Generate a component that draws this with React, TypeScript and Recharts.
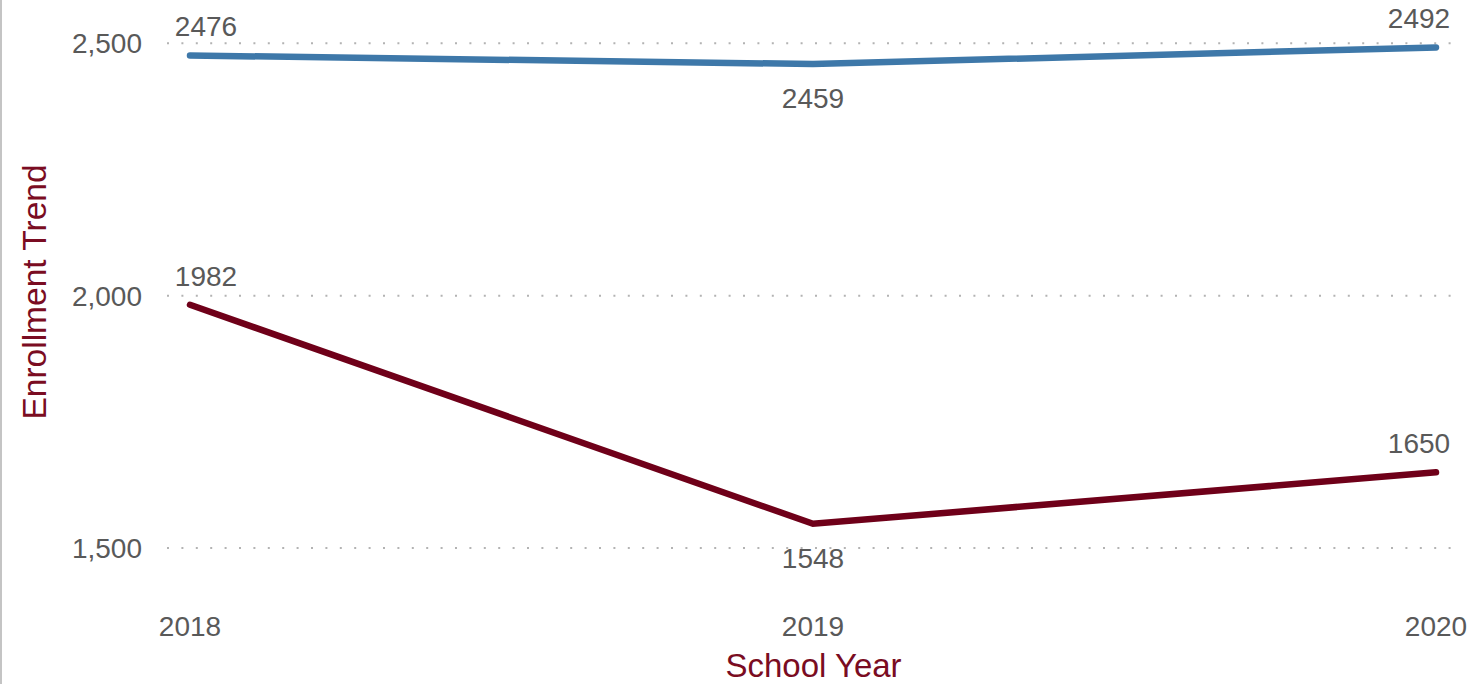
import { CartesianGrid, Label, Line, LineChart, XAxis, YAxis } from 'recharts';

const years = ['2018', '2019', '2020'];
const totalEnrollment = [2476, 2459, 2492];
const otherEnrollment = [1982, 1548, 1650];
const yTicks = [1500, 2000, 2500];
// where each point's value label sits
const totalLabelPos = ['above', 'below', 'above'];
const otherLabelPos = ['above', 'below', 'above'];

const data = years.map((year, i) => ({
  year,
  total: totalEnrollment[i],
  other: otherEnrollment[i],
}));

const FONT = '"Liberation Sans", Arial, sans-serif';
const TEXT = '#595959';
const TITLE = '#7a0c22';
const BLUE = '#3e78a9';
const RED = '#6f0019';

function numFmt(n: number): string {
  return n.toLocaleString('en-US');
}

function makeLabel(positions: string[]) {
  return function PointLabel(props: any) {
    const { x, y, value, index } = props;
    const last = years.length - 1;
    const dx = index === 0 ? 16 : index === last ? -17 : 0;
    const dy = positions[index] === 'below' ? 34 : -29;
    return (
      <text
        x={x + dx}
        y={y + dy}
        dy="0.35em"
        textAnchor="middle"
        fill={TEXT}
        fontSize={28}
        fontFamily={FONT}
      >
        {value}
      </text>
    );
  };
}

function YTitle() {
  return (
    <text
      x={34}
      y={292}
      dy="0.35em"
      textAnchor="middle"
      transform="rotate(-90, 34, 292)"
      fill={TITLE}
      fontSize={33.5}
      fontFamily={FONT}
    >
      Enrollment Trend
    </text>
  );
}

export default function App() {
  return (
    <div style={{ position: 'fixed', left: 0, top: 0, width: 1470, height: 684, background: '#fff' }}>
      <div style={{ position: 'absolute', left: 0, top: 0, width: 2, height: 684, background: '#c4c4c4' }} />
      <LineChart
        width={1470}
        height={684}
        data={data}
        margin={{ top: 3, right: 10, left: 0, bottom: 0 }}
        style={{ fontFamily: FONT }}
      >
        <CartesianGrid
          vertical={false}
          horizontalValues={yTicks}
          stroke="#b3b3b3"
          strokeWidth={2}
          strokeDasharray="2 12.4"
        />
        <XAxis
          dataKey="year"
          axisLine={false}
          tickLine={false}
          tickSize={0}
          tickMargin={18}
          padding={{ left: 23, right: 24 }}
          height={85.5}
          tick={{ fontSize: 28, fill: TEXT, fontFamily: FONT }}
        >
          <Label
            value="School Year"
            position="insideBottom"
            offset={7}
            style={{ fontSize: 33, fill: TITLE, fontFamily: FONT }}
          />
        </XAxis>
        <YAxis
          type="number"
          domain={[1400, 2580]}
          ticks={yTicks}
          width={167}
          axisLine={false}
          tickLine={false}
          tickSize={0}
          tickMargin={25}
          tickFormatter={numFmt}
          tick={{ fontSize: 28, fill: TEXT, fontFamily: FONT }}
        >
          <Label content={YTitle} />
        </YAxis>
        <Line
          type="linear"
          dataKey="total"
          stroke={BLUE}
          strokeWidth={6.5}
          strokeLinecap="round"
          dot={false}
          activeDot={false}
          isAnimationActive={false}
          label={makeLabel(totalLabelPos)}
        />
        <Line
          type="linear"
          dataKey="other"
          stroke={RED}
          strokeWidth={6.5}
          strokeLinecap="round"
          dot={false}
          activeDot={false}
          isAnimationActive={false}
          label={makeLabel(otherLabelPos)}
        />
      </LineChart>
    </div>
  );
}
